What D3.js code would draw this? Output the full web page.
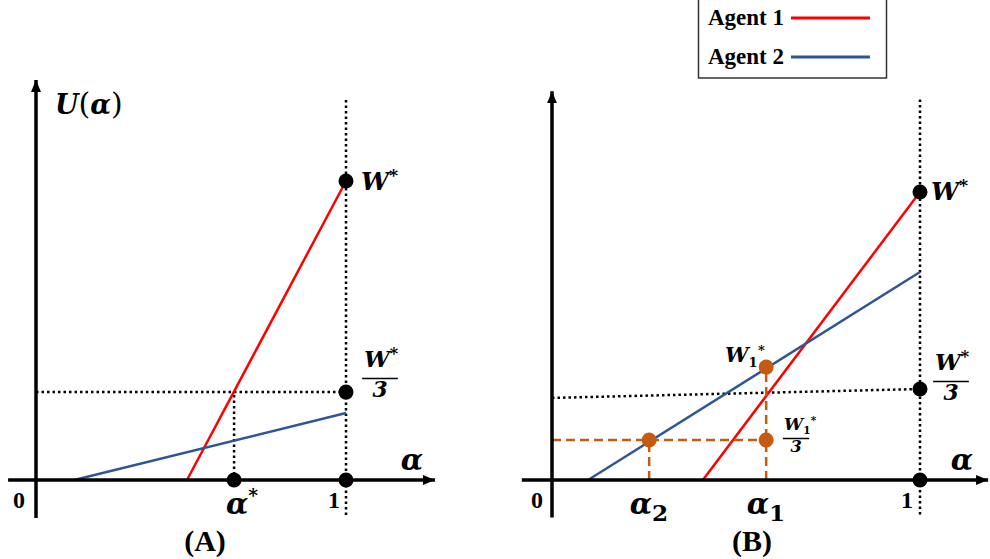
<!DOCTYPE html>
<html><head><meta charset="utf-8">
<script src="https://cdn.jsdelivr.net/npm/d3@7/dist/d3.min.js"></script>
<style>
body{margin:0;background:#fff;}
svg{display:block;}
.serif{font-family:"Liberation Serif","Times New Roman",serif;font-weight:bold;}
.math{font-family:"DejaVu Serif","Liberation Serif",serif;font-weight:bold;font-style:italic;}
</style></head>
<body>
<script>
// ---- data (domain units: alpha on x, utility relative to W* on y) ----
const agentNames = ["Agent 1", "Agent 2"];
const agentColors = ["#ff0000", "#2f5597"];
const panelLabels = ["(A)", "(B)"];
// Panel A
const agent1A = [[0.487, 0], [1, 1]];
const agent2A = [[0.123, 0], [1, 0.224]];
const wStarA = 1, wThirdA = 0.294, alphaStarA = 0.639;
// Panel B
const agent1B = [[0.41, 0], [1, 1]];
const agent2B = [[0.098, 0], [1, 0.722]];
const wStarB = 1;
const thirdLineB = [[0, 0.285], [1, 0.316]];
const w1StarB = 0.392, w1ThirdB = 0.139, alpha1B = 0.582, alpha2B = 0.264;

const W = 990, H = 559;
const svg = d3.select("body").append("svg").attr("width", W).attr("height", H);
const defs = svg.append("defs");
defs.append("marker").attr("id","arr").attr("viewBox","0 0 12 10").attr("refX",12).attr("refY",5)
  .attr("markerWidth",12).attr("markerHeight",10).attr("markerUnits","userSpaceOnUse").attr("orient","auto")
  .append("path").attr("d","M0,0L12,5L0,10Z").attr("fill","#000");

const xA = d3.scaleLinear([0,1],[36,346]);
const yA = d3.scaleLinear([0,1],[480,181]);
const xB = d3.scaleLinear([0,1],[552,920]);
const yB = d3.scaleLinear([0,1],[480,192]);

function line(g, x, y, pts, opt){
  const gen = d3.line().x(d=>x(d[0])).y(d=>y(d[1]));
  const p = g.append("path").attr("d", gen(pts)).attr("fill","none")
    .attr("stroke", opt.color||"#000").attr("stroke-width", opt.w||2.5);
  if(opt.dash) p.attr("stroke-dasharray", opt.dash);
  if(opt.arrow) p.attr("marker-end","url(#arr)");
  return p;
}
function dot(g, x, y, px, py, color, r){
  g.append("circle").attr("cx",x(px)).attr("cy",y(py)).attr("r",r||7.5).attr("fill",color||"#000");
}
function wstar(g, xp, yp, sub, size){
  const t = g.append("text").attr("class","math").attr("x",xp).attr("y",yp).attr("font-size",size);
  t.append("tspan").text("W");
  if(sub){
    t.append("tspan").attr("font-size",size*0.62).attr("dy",size*0.25).attr("font-style","normal").text("1");
    t.append("tspan").attr("font-size",size*0.62).attr("font-style","normal").attr("dx",size*0.02).attr("dy",-size*0.6).text("*");
  } else {
    t.append("tspan").attr("font-size",size*0.7).attr("font-style","normal").attr("dy",-size*0.35).text("*");
  }
}
function fraction(g, cx, yTop, sub, size){
  wstar(g, cx - size*0.7, yTop, sub, size);
  const lw = size*1.55;
  g.append("line").attr("x1",cx-lw/2).attr("x2",cx+lw/2).attr("y1",yTop+size*0.5).attr("y2",yTop+size*0.5)
    .attr("stroke","#000").attr("stroke-width",1.5);
  g.append("text").attr("class","math").attr("font-style","normal").attr("x",cx).attr("y",yTop+size*1.3)
    .attr("text-anchor","middle").attr("font-size",size*0.95).text("3");
}
function alphaLabel(g, xp, yp, sup, size){
  const t = g.append("text").attr("class","math").attr("x",xp).attr("y",yp).attr("font-size",size).attr("text-anchor","middle");
  t.append("tspan").text("α");
  if(sup==="*") t.append("tspan").attr("font-size",size*0.65).attr("font-style","normal").attr("dy",-size*0.4).text("*");
  else if(sup) t.append("tspan").attr("font-size",size*0.8).attr("font-style","normal").attr("dy",size*0.25).text(sup);
}

// ---------- Panel A ----------
const gA = svg.append("g");
line(gA, xA, yA, [[1,-0.117],[1,1.281]], {w:2.5, dash:"2.5,3"});
line(gA, xA, yA, [[0,wThirdA],[1,wThirdA]], {w:2.5, dash:"2.5,3"});
line(gA, xA, yA, [[alphaStarA,0],[alphaStarA,wThirdA]], {w:2.5, dash:"2.5,3"});
line(gA, xA, yA, agent1A, {color:agentColors[0], w:2.5});
line(gA, xA, yA, agent2A, {color:agentColors[1], w:2.5});
line(gA, xA, yA, [[-0.09,0],[1.287,0]], {w:3.5, arrow:true});
line(gA, xA, yA, [[0,-0.127],[0,1.338]], {w:3.5, arrow:true});
dot(gA, xA, yA, 1, wStarA);
dot(gA, xA, yA, 1, wThirdA);
dot(gA, xA, yA, alphaStarA, 0);
dot(gA, xA, yA, 1, 0);
const u = gA.append("text").attr("class","math").attr("x",55).attr("y",114).attr("font-size",27);
u.append("tspan").text("U");
u.append("tspan").attr("font-style","normal").attr("font-weight","normal").attr("font-size",30).text("(");
u.append("tspan").text("α");
u.append("tspan").attr("font-style","normal").attr("font-weight","normal").attr("font-size",30).text(")");
wstar(gA, 361, 190, false, 25);
fraction(gA, 380, 367, false, 23);
alphaLabel(gA, 412, 470, null, 29);
gA.append("text").attr("class","serif").attr("x",19).attr("y",508).attr("font-size",24).attr("text-anchor","middle").text("0");
gA.append("text").attr("class","serif").attr("x",334).attr("y",508).attr("font-size",24).attr("text-anchor","middle").text("1");
alphaLabel(gA, 242, 514, "*", 29);
gA.append("text").attr("class","serif").attr("x",205).attr("y",551).attr("font-size",30).attr("text-anchor","middle").text(panelLabels[0]);

// ---------- Panel B ----------
const gB = svg.append("g");
const orange = "#c55a11";
line(gB, xB, yB, [[1,-0.12],[1,1.33]], {w:2.5, dash:"2.5,3"});
line(gB, xB, yB, thirdLineB, {w:2.5, dash:"2.5,3"});
line(gB, xB, yB, agent1B, {color:agentColors[0], w:2.5});
line(gB, xB, yB, agent2B, {color:agentColors[1], w:2.5});
line(gB, xB, yB, [[0,w1ThirdB],[alpha1B,w1ThirdB]], {color:orange, w:2.5, dash:"9,5"});
line(gB, xB, yB, [[alpha1B,0],[alpha1B,w1StarB]], {color:orange, w:2.5, dash:"9,5"});
line(gB, xB, yB, [[alpha2B,0],[alpha2B,w1ThirdB]], {color:orange, w:2.5, dash:"9,5"});
line(gB, xB, yB, [[-0.082,0],[1.185,0]], {w:3.5, arrow:true});
line(gB, xB, yB, [[0,-0.13],[0,1.35]], {w:3.5, arrow:true});
dot(gB, xB, yB, 1, wStarB);
dot(gB, xB, yB, 1, thirdLineB[1][1]);
dot(gB, xB, yB, 1, 0);
dot(gB, xB, yB, alpha1B, w1StarB, orange);
dot(gB, xB, yB, alpha1B, w1ThirdB, orange);
dot(gB, xB, yB, alpha2B, w1ThirdB, orange);
wstar(gB, 931, 200, false, 25);
fraction(gB, 951, 370, false, 23);
alphaLabel(gB, 962, 470, null, 29);
wstar(gB, 725, 362, true, 21);
fraction(gB, 796, 430, true, 17);
gB.append("text").attr("class","serif").attr("x",537).attr("y",508).attr("font-size",24).attr("text-anchor","middle").text("0");
gB.append("text").attr("class","serif").attr("x",907).attr("y",508).attr("font-size",24).attr("text-anchor","middle").text("1");
alphaLabel(gB, 649, 514, "2", 29);
alphaLabel(gB, 766, 514, "1", 29);
gB.append("text").attr("class","serif").attr("x",752).attr("y",551).attr("font-size",30).attr("text-anchor","middle").text(panelLabels[1]);

// ---------- Legend ----------
const lg = svg.append("g");
lg.append("rect").attr("x",698.5).attr("y",-1).attr("width",188).attr("height",79).attr("fill","#fff").attr("stroke","#333").attr("stroke-width",1.5);
const legY = [18, 57];
agentNames.forEach((n,i)=>{
  lg.append("text").attr("class","serif").attr("x",708).attr("y",legY[i]+7).attr("font-size",23).text(n);
  lg.append("line").attr("x1",791).attr("x2",870).attr("y1",legY[i]).attr("y2",legY[i])
    .attr("stroke",agentColors[i]).attr("stroke-width",3);
});
</script>
</body></html>
